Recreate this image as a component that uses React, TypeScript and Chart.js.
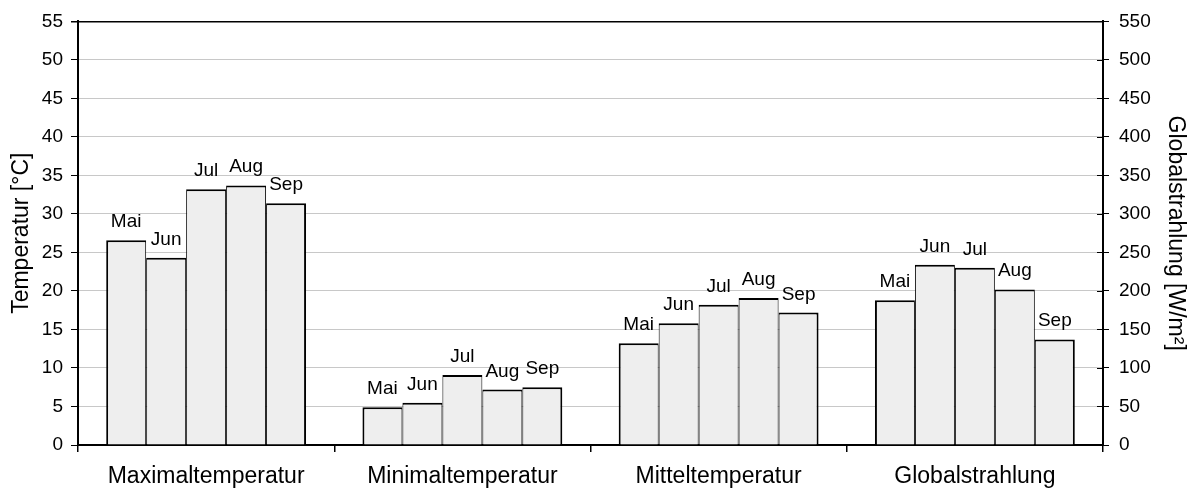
import React, { useEffect, useRef } from "react";
import { Chart, registerables } from "chart.js";

Chart.register(...registerables);

// Categories on the x axis
const categories = ["Maximaltemperatur", "Minimaltemperatur", "Mitteltemperatur", "Globalstrahlung"];
const months = ["Mai", "Jun", "Jul", "Aug", "Sep"];

// Temperatures [°C] per month: [Maximal, Minimal, Mittel]
const maiTemp = [26.6, 4.9, 13.2];
const junTemp = [24.3, 5.5, 15.8];
const julTemp = [33.2, 9.1, 18.2];
const augTemp = [33.7, 7.2, 19.1];
const sepTemp = [31.4, 7.5, 17.2];

// Globalstrahlung [W/m²] per month Mai..Sep
const globalRadiation = [188, 234, 230, 202, 137];

// Axis settings
const tempMax = 55;
const tempStep = 5;
const radMax = 550;
const radStep = 50;

const FONT = '"Liberation Sans", Arial, Helvetica, sans-serif';
const TICK_SIZE = 19;
const LABEL_SIZE = 19;
const CAT_SIZE = 23;
const TITLE_SIZE = 23;

const monthLabelPlugin = {
  id: "monthLabels",
  afterDatasetsDraw(chart: any) {
    const ctx = chart.ctx;
    ctx.save();
    ctx.font = `${LABEL_SIZE}px ${FONT}`;
    ctx.fillStyle = "#000";
    ctx.textAlign = "center";
    ctx.textBaseline = "alphabetic";
    chart.data.datasets.forEach((ds: any, i: number) => {
      const meta = chart.getDatasetMeta(i);
      meta.data.forEach((el: any, j: number) => {
        const v = ds.data[j];
        if (v === null || v === undefined) return;
        ctx.fillText(ds.label, el.x, el.y - 13);
      });
    });
    ctx.restore();
  },
};

const innerTickPlugin = {
  id: "innerRightTicks",
  afterDraw(chart: any) {
    const s = chart.scales.y1;
    const ctx = chart.ctx;
    const right = chart.chartArea.right;
    ctx.save();
    ctx.strokeStyle = "#000";
    ctx.lineWidth = 1;
    s.ticks.forEach((t: any) => {
      const y = Math.round(s.getPixelForValue(t.value)) + 0.5;
      ctx.beginPath();
      ctx.moveTo(right - 6, y);
      ctx.lineTo(right, y);
      ctx.stroke();
    });
    ctx.restore();
  },
};

function borderFor(i: number) {
  return {
    left: i === 0 ? 2 : 1,
    right: i === 4 ? 2 : 1,
    top: 2,
    bottom: 0,
  };
}

export default function App() {
  const ref = useRef<HTMLCanvasElement>(null);

  useEffect(() => {
    document.body.style.margin = "0";
    const temps = [maiTemp, junTemp, julTemp, augTemp, sepTemp];
    const tempSets = months.map((m, i) => ({
      label: m,
      data: [temps[i][0], temps[i][1], temps[i][2], null],
      yAxisID: "y",
      backgroundColor: "#eeeeee",
      borderColor: "#000000",
      borderWidth: borderFor(i),
      borderSkipped: false,
      skipNull: true,
      categoryPercentage: 0.78,
      barPercentage: 1.0,
    }));
    const radSets = months.map((m, i) => ({
      label: m,
      data: [null, null, null, globalRadiation[i]],
      yAxisID: "y1",
      backgroundColor: "#eeeeee",
      borderColor: "#000000",
      borderWidth: borderFor(i),
      borderSkipped: false,
      skipNull: true,
      categoryPercentage: 0.78,
      barPercentage: 1.0,
    }));

    Chart.defaults.font.family = FONT;
    Chart.defaults.font.size = TICK_SIZE;
    Chart.defaults.color = "#000";

    const chart = new Chart(ref.current!, {
      type: "bar",
      data: { labels: categories, datasets: [...tempSets, ...radSets] as any },
      options: {
        animation: false,
        responsive: false,
        devicePixelRatio: 1,
        layout: { padding: { top: 20, left: 0, right: 0, bottom: 0 } },
        plugins: { legend: { display: false }, tooltip: { enabled: false } },
        scales: {
          x: {
            offset: true,
            grid: {
              offset: true,
              drawOnChartArea: false,
              tickLength: 7,
              color: "#000",
              lineWidth: 1.5,
            },
            border: { display: true, color: "#000", width: 2 },
            ticks: { padding: 11, color: "#000", maxRotation: 0, font: { size: CAT_SIZE } },
            afterFit: (s: any) => {
              s.height = 48;
            },
          },
          y: {
            position: "left",
            min: 0,
            max: tempMax,
            ticks: { stepSize: tempStep, padding: 8, color: "#000", font: { size: TICK_SIZE } },
            grid: {
              color: (c: any) =>
                c.tick && (c.tick.value === tempMax || c.tick.value === 0) ? "#000" : "#c8c8c8",
              lineWidth: (c: any) => (c.tick && c.tick.value === tempMax ? 1.5 : 1),
              tickLength: 7,
              tickColor: "#000",
            },
            border: { display: true, color: "#000", width: 2 },
            title: {
              display: true,
              text: "Temperatur [°C]",
              color: "#000",
              font: { size: TITLE_SIZE },
              padding: { top: 8, bottom: 0 },
            },
            afterFit: (s: any) => {
              s.width = 78;
            },
          },
          y1: {
            position: "right",
            min: 0,
            max: radMax,
            ticks: { stepSize: radStep, padding: 10, color: "#000", font: { size: TICK_SIZE } },
            grid: {
              drawOnChartArea: false,
              tickLength: 6,
              tickColor: "#000",
              color: "#000",
            },
            border: { display: true, color: "#000", width: 2 },
            title: {
              display: true,
              text: "Globalstrahlung [W/m²]",
              color: "#000",
              font: { size: TITLE_SIZE },
              padding: { top: 7, bottom: 0 },
            },
            afterFit: (s: any) => {
              s.width = 93;
            },
          },
        },
      } as any,
      plugins: [monthLabelPlugin, innerTickPlugin],
    });
    return () => chart.destroy();
  }, []);

  return (
    <div style={{ position: "absolute", left: 0, top: 0, width: 1196, height: 493, background: "#fff" }}>
      <canvas ref={ref} width={1196} height={493} />
    </div>
  );
}
